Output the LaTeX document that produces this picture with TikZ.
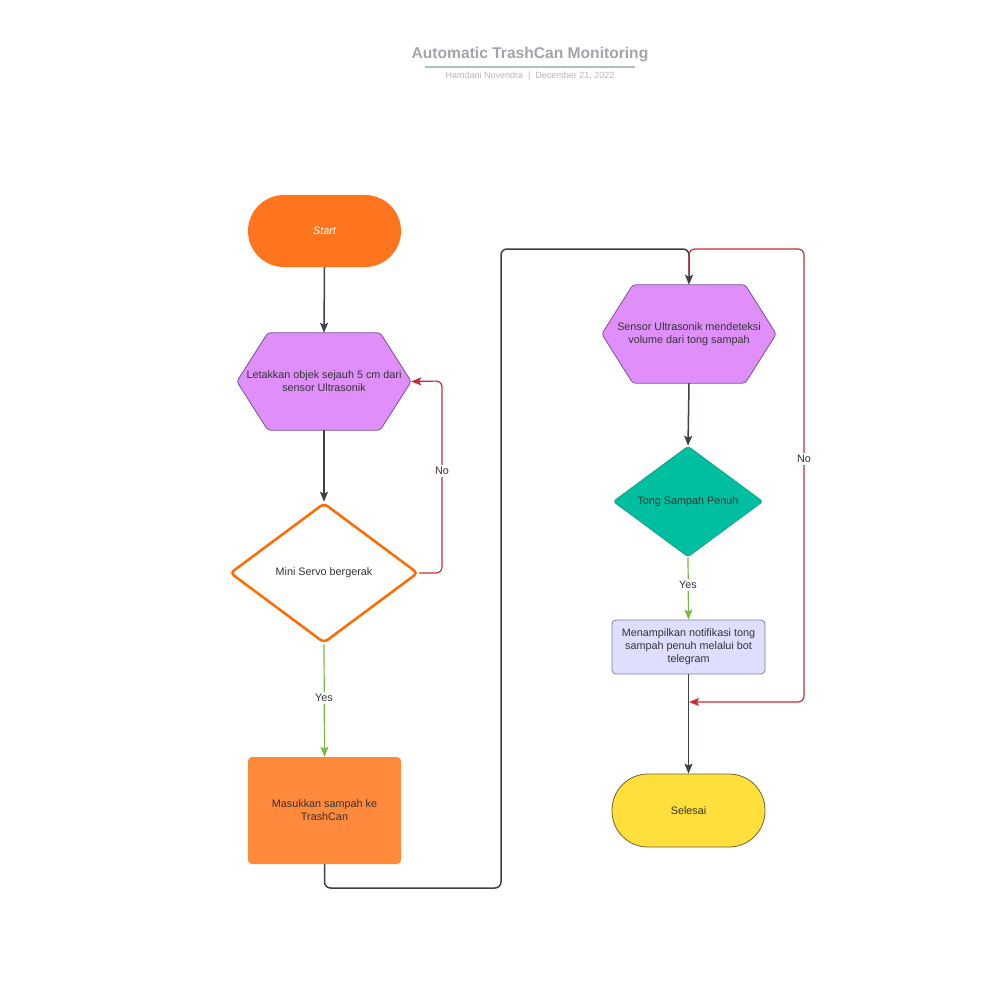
\documentclass[tikz,border=0pt]{standalone}
\usepackage{fontspec}
\setmainfont{Liberation Sans}
\usetikzlibrary{arrows.meta,shapes.geometric,calc}
\definecolor{startor}{RGB}{255,117,30}
\definecolor{boxor}{RGB}{255,138,60}
\definecolor{hexfill}{RGB}{224,143,250}
\definecolor{hexdraw}{RGB}{120,80,150}
\definecolor{teal}{RGB}{0,191,160}
\definecolor{tealdraw}{RGB}{20,150,125}
\definecolor{lav}{RGB}{222,222,255}
\definecolor{lavdraw}{RGB}{130,130,150}
\definecolor{yel}{RGB}{255,223,60}
\definecolor{yeldraw}{RGB}{110,100,60}
\definecolor{dorange}{RGB}{255,107,0}
\definecolor{lnred}{RGB}{201,45,57}
\definecolor{lngreen}{RGB}{122,182,72}
\definecolor{lndark}{RGB}{58,65,74}
\definecolor{txt}{RGB}{51,51,51}
\definecolor{titlegray}{RGB}{160,165,170}
\definecolor{subgray}{RGB}{180,184,188}
\definecolor{ulgreen}{RGB}{170,195,185}
\tikzset{
  x=1pt, y=-1pt,
  lbl/.style={font=\fontsize{10.8}{13}\selectfont, text=txt, align=center},
  term/.style={lbl, rectangle, rounded corners=36pt, inner sep=0pt},
  hexnode/.style={lbl, rectangle, inner sep=0pt, text width=165pt},
  dec/.style={lbl, diamond, inner sep=0pt},
  procbox/.style={lbl, rectangle, inner sep=0pt, rounded corners=4pt},
  conn/.style={draw=lndark, line width=1.5pt, rounded corners=6pt, -{Stealth[length=10pt,width=8pt,inset=2pt]}},
  noconn/.style={draw=lnred, line width=1.2pt, rounded corners=6pt, -{Stealth[length=10pt,width=8pt,inset=2pt]}},
  yesconn/.style={draw=lngreen, line width=1.2pt, -{Stealth[length=10pt,width=8pt,inset=2pt]}},
  edgelbl/.style={lbl, fill=white, inner sep=2pt},
}
\begin{document}
\begin{tikzpicture}
\useasboundingbox (0,0) rectangle (1000,1000);
\fill[white] (0,0) rectangle (1000,1000);

% title
\node (title) at (530,55) {\fontsize{15.6}{18}\selectfont\bfseries\color{titlegray}Automatic TrashCan Monitoring};
\coordinate (ul1) at (425,67);
\coordinate (ul2) at (635,67);
\draw[ulgreen, line width=1.2pt] (ul1) -- (ul2);
\node (sub) at (530,76) {\fontsize{9}{10}\selectfont\color{subgray}Hamdani Novendra~~|~~December 21, 2022};

% nodes
\node[term, fill=startor, minimum width=153pt, minimum height=72pt, text=white, font=\fontsize{10.8}{13}\selectfont\itshape] (start) at (324.5,231) {Start};

\node[hexnode, minimum width=174pt, minimum height=97pt] (h1) at (324,381.5) {};
\filldraw[fill=hexfill, draw=hexdraw, line width=0.8pt, rounded corners=3pt]
  (h1.west) -- ([xshift=31pt]h1.north west) -- ([xshift=-31pt]h1.north east) -- (h1.east)
  -- ([xshift=-31pt]h1.south east) -- ([xshift=31pt]h1.south west) -- cycle;
\node[lbl, text=txt] (h1t) at (h1.center) {Letakkan objek sejauh 5 cm dari\\sensor Ultrasonik};

\node[dec, draw=dorange, line width=2.5pt, fill=white, minimum width=188pt, minimum height=140pt, rounded corners=4pt] (d1) at (324,573) {Mini Servo bergerak};

\node[procbox, fill=boxor, minimum width=153pt, minimum height=107pt] (box1) at (324.5,810.5) {Masukkan sampah ke\\TrashCan};

\node[hexnode, minimum width=174pt, minimum height=98pt] (h2) at (689,334) {};
\filldraw[fill=hexfill, draw=hexdraw, line width=0.8pt, rounded corners=3pt]
  (h2.west) -- ([xshift=31pt]h2.north west) -- ([xshift=-31pt]h2.north east) -- (h2.east)
  -- ([xshift=-31pt]h2.south east) -- ([xshift=31pt]h2.south west) -- cycle;
\node[lbl, text=txt] (h2t) at (h2.center) {Sensor Ultrasonik mendeteksi\\volume dari tong sampah};

\node[dec, draw=tealdraw, line width=0.6pt, fill=teal, minimum width=150pt, minimum height=105pt, rounded corners=3pt] (d2) at (688,501.5) {Tong Sampah Penuh};

\node[procbox, draw=lavdraw, line width=0.8pt, fill=lav, minimum width=153pt, minimum height=54pt] (box2) at (688.5,647) {Menampilkan notifikasi tong\\sampah penuh melalui bot\\telegram};

\node[term, draw=yeldraw, line width=0.8pt, fill=yel, minimum width=153pt, minimum height=73pt] (end) at (688.5,810.5) {Selesai};

% connectors
\draw[conn] (start.south) -- (h1.north);
\draw[conn] (h1.south) -- (d1.north);
\coordinate (n1) at (442,381);
\draw[noconn] (d1.east) -| (n1) -- (h1.east);
\node[edgelbl] (no1) at (442,471) {No};
\draw[yesconn] (d1.south) -- (box1.north);
\node[edgelbl] (yes1) at (324,698) {Yes};

\coordinate (c1) at (501,888);
\coordinate (c2) at (501,249);
\draw[conn] (box1.south) |- (c1) -- (c2) -| (h2.north);

\draw[conn] (h2.south) -- (d2.north);
\draw[yesconn] (d2.south) -- (box2.north);
\node[edgelbl] (yes2) at (688,585) {Yes};
\draw[conn] (box2.south) -- (end.north);

\coordinate (rs) at (689,274);
\coordinate (r1) at (804,249);
\coordinate (r2) at (804,702);
\coordinate (rm) at (689,702);
\draw[noconn] (rs) |- (r1) -- (r2) -- (rm);
\node[edgelbl] (no2) at (804,459) {No};
\end{tikzpicture}
\end{document}
